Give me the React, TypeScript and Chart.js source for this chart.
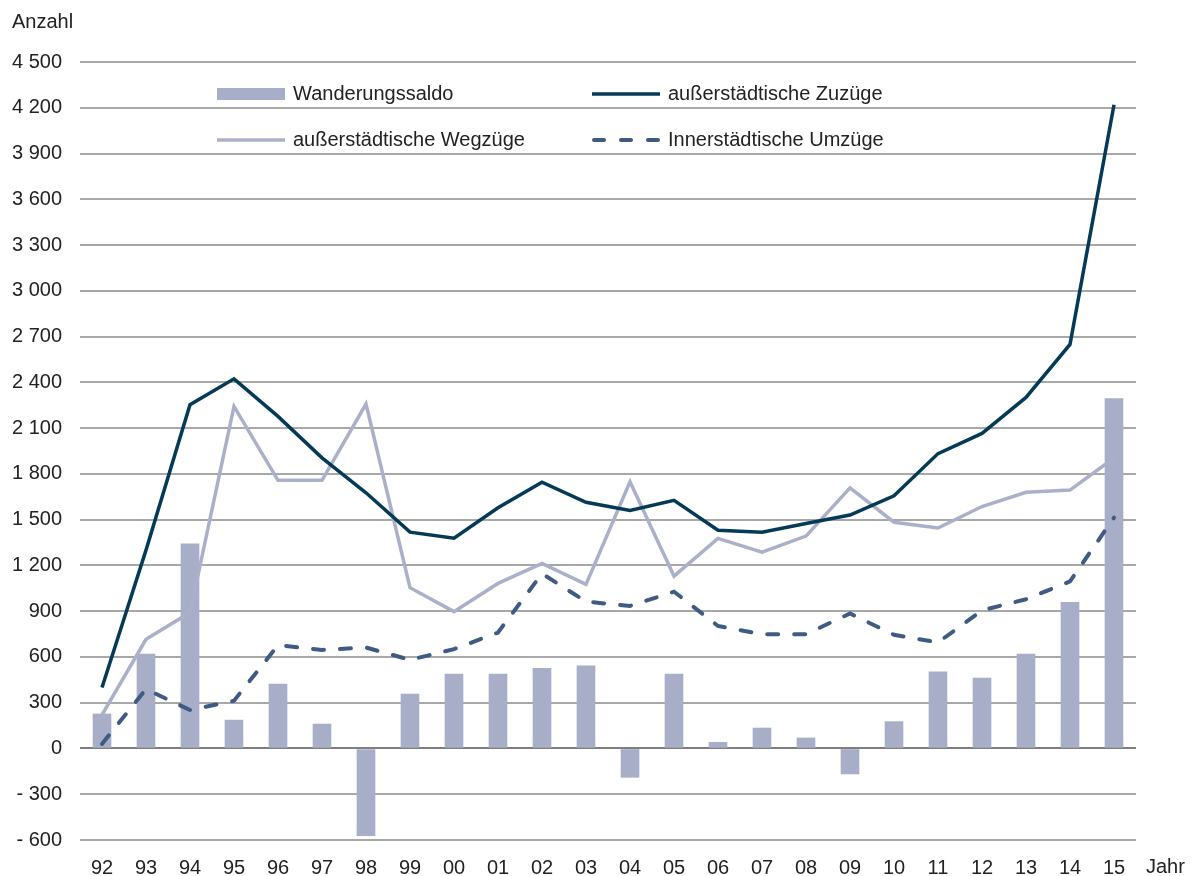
import React, { useEffect, useRef } from "react";
import { Chart, registerables } from "chart.js";

Chart.register(...registerables);

const years = ["92","93","94","95","96","97","98","99","00","01","02","03","04","05","06","07","08","09","10","11","12","13","14","15"];
const saldo = [226, 618, 1342, 186, 422, 160, -572, 356, 487, 487, 526, 542, -189, 487, 40, 134, 69, -167, 176, 502, 461, 619, 958, 2293];
const zuzuege = [400, 1300, 2253, 2423, 2177, 1905, 1676, 1418, 1378, 1578, 1745, 1614, 1560, 1627, 1431, 1418, 1475, 1530, 1656, 1933, 2065, 2301, 2649, 4220];
const wegzuege = [220, 716, 891, 2242, 1758, 1758, 2258, 1054, 897, 1082, 1213, 1076, 1748, 1130, 1377, 1287, 1392, 1708, 1483, 1445, 1586, 1679, 1694, 1904];
const umzuege = [30, 389, 252, 313, 677, 646, 662, 581, 651, 760, 1146, 963, 934, 1028, 803, 749, 749, 885, 745, 695, 905, 978, 1095, 1513];

const labelSaldo = "Wanderungssaldo";
const labelZu = "außerstädtische Zuzüge";
const labelWeg = "außerstädtische Wegzüge";
const labelUm = "Innerstädtische Umzüge";

const C_BAR = "#a9aec8";
const C_ZU = "#043a58";
const C_WEG = "#aab0c9";
const C_UM = "#3f5a83";
const FONT = "'Liberation Sans', Arial, sans-serif";
const TEXT = "#222222";
const DASH = [11, 16];

function fmt(v: number): string {
  const a = Math.abs(v);
  const s = a >= 1000 ? Math.floor(a / 1000) + " " + String(a % 1000).padStart(3, "0") : String(a);
  return v < 0 ? "- " + s : s;
}

const extrasPlugin = {
  id: "extras",
  afterDraw(chart: any) {
    const ctx = chart.ctx;
    ctx.save();
    ctx.font = `20px ${FONT}`;
    ctx.fillStyle = TEXT;
    ctx.textBaseline = "middle";
    ctx.textAlign = "left";
    ctx.fillText("Anzahl", 12, 22);
    ctx.fillText("Jahr", 1146, 867);

    // legend
    const r1 = 94, r2 = 140;
    const x1 = 217, x2 = 592, sw = 68, tx = 8;
    ctx.fillStyle = C_BAR;
    ctx.fillRect(x1, r1 - 6, sw, 12);
    ctx.lineWidth = 3.5;
    ctx.lineCap = "butt";
    ctx.strokeStyle = C_ZU;
    ctx.beginPath(); ctx.moveTo(x2, r1); ctx.lineTo(x2 + sw, r1); ctx.stroke();
    ctx.strokeStyle = C_WEG;
    ctx.beginPath(); ctx.moveTo(x1, r2); ctx.lineTo(x1 + sw, r2); ctx.stroke();
    ctx.strokeStyle = C_UM;
    ctx.lineWidth = 4;
    ctx.lineCap = "round";
    ctx.setLineDash([10, 17]);
    ctx.beginPath(); ctx.moveTo(x2 + 2, r2); ctx.lineTo(x2 + sw, r2); ctx.stroke();
    ctx.setLineDash([]);
    ctx.fillStyle = TEXT;
    ctx.fillText(labelSaldo, x1 + sw + tx, r1);
    ctx.fillText(labelZu, x2 + sw + tx, r1);
    ctx.fillText(labelWeg, x1 + sw + tx, r2);
    ctx.fillText(labelUm, x2 + sw + tx, r2);
    ctx.restore();
  },
};

export default function App() {
  const ref = useRef<HTMLCanvasElement | null>(null);
  useEffect(() => {
    if (!ref.current) return;
    const chart = new Chart(ref.current, {
      type: "bar",
      data: {
        labels: years,
        datasets: [
          { type: "line", label: labelZu, data: zuzuege, borderColor: C_ZU, borderWidth: 3.5, pointRadius: 0, tension: 0, fill: false, order: 1 },
          { type: "line", label: labelWeg, data: wegzuege, borderColor: C_WEG, borderWidth: 3.5, pointRadius: 0, tension: 0, fill: false, order: 2 },
          { type: "line", label: labelUm, data: umzuege, borderColor: C_UM, borderWidth: 4, borderDash: DASH, borderCapStyle: "round", pointRadius: 0, tension: 0, fill: false, order: 3 },
          { type: "bar", label: labelSaldo, data: saldo, backgroundColor: C_BAR, barThickness: 18, order: 10 },
        ] as any,
      },
      options: {
        animation: false,
        responsive: false,
        maintainAspectRatio: false,
        layout: { padding: { top: 62, right: 60, left: 0, bottom: 0 } },
        plugins: { legend: { display: false }, tooltip: { enabled: false } },
        scales: {
          x: {
            offset: true,
            grid: { display: false, drawTicks: false },
            border: { display: false },
            ticks: { color: TEXT, font: { family: FONT, size: 20 }, padding: 16, maxRotation: 0, autoSkip: false },
            afterFit: (s: any) => { s.height = 36; },
          },
          y: {
            min: -600,
            max: 4500,
            grid: {
              drawTicks: false,
              color: (c: any) => (c.tick && c.tick.value === 0 ? "#7f7f7f" : "#a8a8a8"),
              lineWidth: 2,
            },
            border: { display: false },
            ticks: { stepSize: 300, color: TEXT, font: { family: FONT, size: 20 }, padding: 18, callback: (v: any) => fmt(Number(v)) },
            afterFit: (s: any) => { s.width = 80; },
          },
        },
      },
      plugins: [extrasPlugin],
    });
    return () => chart.destroy();
  }, []);
  return (
    <div style={{ position: "fixed", left: 0, top: 0, width: 1196, height: 876, background: "#fff" }}>
      <canvas ref={ref} width={1196} height={876} style={{ width: 1196, height: 876, display: "block" }} />
    </div>
  );
}
